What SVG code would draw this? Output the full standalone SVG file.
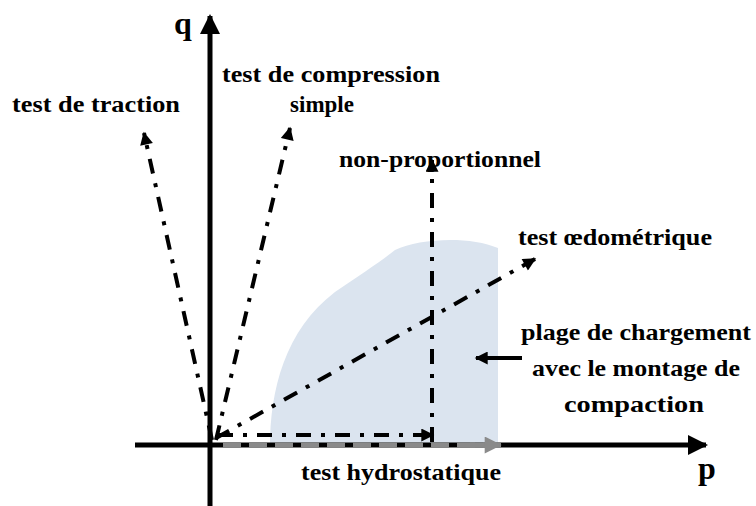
<svg xmlns="http://www.w3.org/2000/svg" width="756" height="506" viewBox="0 0 756 506">
<defs>
<style>
.lbl{font-family:'Liberation Serif','Times New Roman',serif;font-weight:700;font-size:23px;fill:#000}
.ax{font-family:'Liberation Serif','Times New Roman',serif;font-weight:700;font-size:32px;fill:#000}
.dd{fill:none;stroke:#000;stroke-width:4;stroke-dasharray:15 10 4 10}
</style>
<marker id="ah" viewBox="0 0 10 10" refX="9" refY="5" markerUnits="userSpaceOnUse" markerWidth="17" markerHeight="13" orient="auto"><path d="M0,0 L10,5 L0,10 Z" fill="#000"/></marker>
<marker id="axh" viewBox="0 0 10 10" refX="9" refY="5" markerUnits="userSpaceOnUse" markerWidth="24" markerHeight="20" orient="auto"><path d="M0,0 L10,5 L0,10 Z" fill="#000"/></marker>
<marker id="gh" viewBox="0 0 10 10" refX="9" refY="5" markerUnits="userSpaceOnUse" markerWidth="20" markerHeight="17" orient="auto"><path d="M0,0 L10,5 L0,10 Z" fill="#8a8a8a"/></marker>
</defs>
<rect width="756" height="506" fill="#fff"/>
<g id="zone">
<path d="M270,447 C270,390 285,330 335,292 C360,275 380,262 395,250 C420,238 470,236 498,248 L498,447 Z" fill="#dbe4ef"/>
</g>
<g id="axes">
<line x1="210" y1="506" x2="210" y2="16" stroke="#000" stroke-width="5" marker-end="url(#axh)"/>
<line x1="135" y1="445" x2="706" y2="445" stroke="#000" stroke-width="5" marker-end="url(#axh)"/>
<text class="ax" x="174" y="34">q</text>
<text class="ax" x="698" y="479">p</text>
</g>
<g id="connectors">
<line x1="501" y1="445" x2="215" y2="445" stroke="#8a8a8a" stroke-width="5" stroke-dasharray="18 8"/>
<line x1="470" y1="445" x2="500" y2="445" stroke="#8a8a8a" stroke-width="5" marker-end="url(#gh)"/>
<line class="dd" x1="212" y1="440" x2="144" y2="133" marker-end="url(#ah)"/>
<line class="dd" x1="216" y1="440" x2="290" y2="128" marker-end="url(#ah)"/>
<line class="dd" x1="216" y1="438" x2="535" y2="259" marker-end="url(#ah)"/>
<line class="dd" x1="218" y1="435" x2="433" y2="435" marker-end="url(#ah)"/>
<line class="dd" x1="432" y1="442" x2="432" y2="160" stroke-width="3.5" marker-end="url(#ah)"/>
<line x1="522" y1="358" x2="476" y2="358" stroke="#000" stroke-width="4" marker-end="url(#ah)"/>
</g>
<g id="labels">
<text class="lbl" x="96" y="112" text-anchor="middle" textLength="168" lengthAdjust="spacingAndGlyphs">test de traction</text>
<text class="lbl" x="331" y="82" text-anchor="middle" textLength="218" lengthAdjust="spacingAndGlyphs">test de compression</text>
<text class="lbl" x="322" y="112" text-anchor="middle">simple</text>
<text class="lbl" x="440" y="167" text-anchor="middle" textLength="202" lengthAdjust="spacingAndGlyphs">non-proportionnel</text>
<text class="lbl" x="615" y="245" text-anchor="middle" textLength="194" lengthAdjust="spacingAndGlyphs">test œdométrique</text>
<text class="lbl" x="636" y="340" text-anchor="middle" textLength="230" lengthAdjust="spacingAndGlyphs">plage de chargement</text>
<text class="lbl" x="636" y="376" text-anchor="middle" textLength="208" lengthAdjust="spacingAndGlyphs">avec le montage de</text>
<text class="lbl" x="634" y="412" text-anchor="middle" textLength="140" lengthAdjust="spacingAndGlyphs">compaction</text>
<text class="lbl" x="401" y="480" text-anchor="middle" textLength="200" lengthAdjust="spacingAndGlyphs">test hydrostatique</text>
</g>
</svg>
